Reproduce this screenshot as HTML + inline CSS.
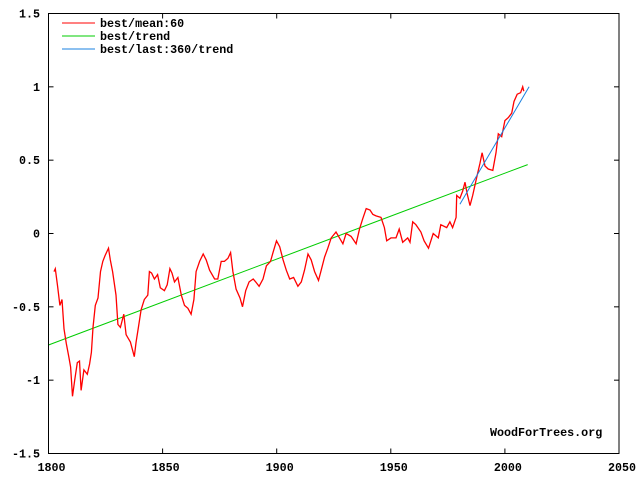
<!DOCTYPE html>
<html><head><meta charset="utf-8"><style>
html,body{margin:0;padding:0;background:#fff;}
svg text{font-family:"Liberation Mono",monospace;font-weight:bold;font-size:11.7px;fill:#000;}
</style></head><body>
<svg id="chart" width="640" height="480" viewBox="0 0 640 480" xmlns="http://www.w3.org/2000/svg">
<rect x="0" y="0" width="640" height="480" fill="#fff"/>
<g id="grid"></g>
<g id="series"></g>
<rect x="48.5" y="13.5" width="570.5" height="440" fill="none" stroke="#000" stroke-width="1"/>
<g id="legend">
<line x1="62" y1="23" x2="95" y2="23" stroke="#f00"/>
<text x="100" y="27">best/mean:60</text>
<line x1="62" y1="36" x2="95" y2="36" stroke="#0c0"/>
<text x="100" y="40">best/trend</text>
<line x1="62" y1="49" x2="95" y2="49" stroke="#1a80e0"/>
<text x="100" y="53">best/last:360/trend</text>
</g>
<text x="490" y="436">WoodForTrees.org</text>
</svg>
<script>
const xTicks = [1800,1850,1900,1950,2000,2050];
const yTicks = [-1.5,-1,-0.5,0,0.5,1,1.5];
const yTickLabels = ["-1.5","-1","-0.5","0","0.5","1","1.5"];
const meanYears = [1802.4,1803,1804,1805,1805.9,1806.8,1807.8,1808.9,1809.7,1810.5,1811.5,1812.6,1813.6,1814.3,1815.5,1817,1818,1818.8,1819.5,1820.5,1821.7,1822.8,1823.8,1824.8,1826.3,1827.1,1828.1,1829.6,1830.4,1831.5,1833,1834,1835.9,1837.6,1838.4,1839.4,1840.6,1842,1843.5,1844.2,1845.2,1846.4,1847.8,1849,1850.8,1852,1853.2,1854.1,1855.2,1856.7,1858.2,1859.6,1861.1,1862.5,1863.7,1864.7,1866.2,1867.8,1869.1,1870.6,1872.8,1874.2,1875.7,1877.1,1878.6,1879.8,1880.8,1882.2,1883.9,1885,1886.4,1887.9,1889.7,1890.8,1892.3,1894,1895.5,1897.3,1898.4,1899.9,1901.3,1902.8,1904.2,1905.7,1907.4,1909.3,1910.8,1912.2,1913.7,1915.1,1916.6,1918.3,1919.5,1921,1922.4,1923.9,1926,1927.5,1929,1930.4,1932.6,1934.8,1936.3,1937.7,1939.2,1940.9,1942.1,1943.5,1945.7,1947.2,1948.2,1950.1,1952.3,1953.7,1955.2,1957.4,1958.4,1959.6,1961,1963.2,1964.6,1966.5,1968.6,1970.8,1971.9,1974.5,1975.9,1977.1,1978.6,1978.9,1980.3,1981.5,1982.5,1983.5,1984.7,1985.9,1987.6,1989.1,1990,1991.3,1992.7,1994.7,1996.1,1997.1,1998.6,2000,2001.5,2003,2004,2005.4,2006.9,2007.8,2008.3];
const meanValues = [-0.26,-0.24,-0.36,-0.49,-0.45,-0.65,-0.75,-0.84,-0.91,-1.11,-1.0,-0.88,-0.87,-1.07,-0.93,-0.96,-0.89,-0.81,-0.64,-0.49,-0.44,-0.26,-0.19,-0.15,-0.10,-0.18,-0.26,-0.42,-0.62,-0.64,-0.55,-0.69,-0.74,-0.84,-0.74,-0.64,-0.52,-0.45,-0.42,-0.26,-0.27,-0.31,-0.28,-0.37,-0.39,-0.35,-0.24,-0.27,-0.33,-0.30,-0.42,-0.49,-0.51,-0.55,-0.45,-0.26,-0.19,-0.14,-0.18,-0.25,-0.31,-0.31,-0.19,-0.19,-0.17,-0.13,-0.26,-0.38,-0.44,-0.50,-0.39,-0.33,-0.31,-0.33,-0.36,-0.31,-0.22,-0.19,-0.13,-0.05,-0.09,-0.18,-0.25,-0.31,-0.30,-0.36,-0.33,-0.25,-0.14,-0.18,-0.26,-0.32,-0.25,-0.16,-0.10,-0.03,0.01,-0.03,-0.07,0.00,-0.02,-0.07,0.03,0.10,0.17,0.16,0.13,0.12,0.11,0.04,-0.05,-0.03,-0.03,0.03,-0.06,-0.03,-0.06,0.08,0.06,0.01,-0.05,-0.10,0.0,-0.03,0.06,0.04,0.08,0.04,0.11,0.26,0.24,0.29,0.35,0.27,0.19,0.26,0.38,0.48,0.55,0.46,0.44,0.43,0.55,0.68,0.66,0.77,0.79,0.82,0.90,0.95,0.96,1.00,0.97];
const trendYears = [1800,2010];
const trendValues = [-0.76,0.47];
const lastTrendYears = [1980.3,2010.6];
const lastTrendValues = [0.2,1.0];

const X0=48.5,X1=619,Y0=453.5,Y1=13.5;
function xScale(yr){return X0+(yr-1800)/(2050-1800)*(X1-X0);}
function yScale(v){return Y0-(v+1.5)/3*(Y0-Y1);}
const NS='http://www.w3.org/2000/svg';
const grid=document.getElementById('grid');
const series=document.getElementById('series');
const svg=document.getElementById('chart');
function mk(tag,attrs,parent){const e=document.createElementNS(NS,tag);for(const k in attrs)e.setAttribute(k,attrs[k]);parent.appendChild(e);return e;}
xTicks.forEach(t=>{
  const x=xScale(t);
  const b=mk('line',{x1:x,y1:Y0,x2:x,y2:Y0-5,stroke:'#000'},grid);
  
  
  const tp=mk('line',{x1:x,y1:Y1,x2:x,y2:Y1+5,stroke:'#000'},grid);
  
  
  const tx=mk('text',{x:x+3,y:471,'text-anchor':'middle'},svg);
  tx.textContent=String(t);
  
  
});
yTicks.forEach((t,i)=>{
  const y=yScale(t);
  const l=mk('line',{x1:X0,y1:y,x2:X0+5,y2:y,stroke:'#000'},grid);
  
  
  const r=mk('line',{x1:X1,y1:y,x2:X1-5,y2:y,stroke:'#000'},grid);
  
  
  const tx=mk('text',{x:40,y:y+4,'text-anchor':'end'},svg);
  tx.textContent=yTickLabels[i];
  
  
});
function line(xs,vs,color,w,name){
  const pts=xs.map((x,i)=>xScale(x).toFixed(1)+','+yScale(vs[i]).toFixed(1)).join(' ');
  const p=mk('polyline',{points:pts,fill:'none',stroke:color,'stroke-width':w,'stroke-linejoin':'miter'},series);
  
  
}
line(trendYears,trendValues,'#0c0',1,'trend-line');
line(meanYears,meanValues,'#f00',1.3,'mean-60-line');
line(lastTrendYears,lastTrendValues,'#1a80e0',1,'last-360-trend-line');
</script>
</body></html>
